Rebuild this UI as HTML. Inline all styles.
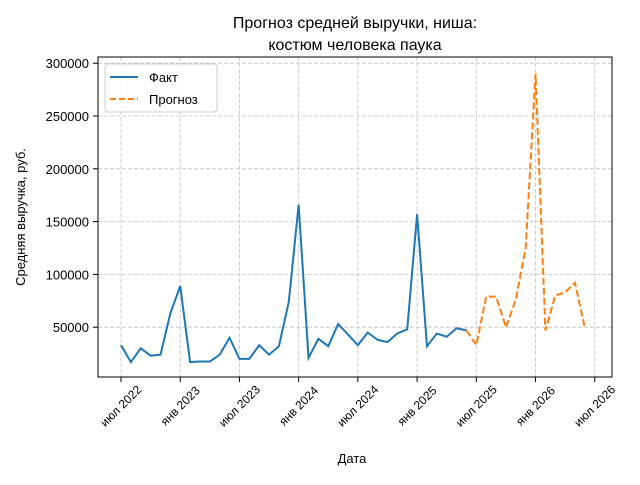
<!DOCTYPE html>
<html><head><meta charset="utf-8"><style>
body{margin:0;background:#fff}
svg text{font-family:"Liberation Sans","DejaVu Sans",sans-serif;fill:#000}
</style></head><body>
<svg id="c" width="640" height="480" xmlns="http://www.w3.org/2000/svg">
<rect width="640" height="480" fill="#fff"/>
<text x="355" y="28" font-size="16" text-anchor="middle">Прогноз средней выручки, ниша:</text>
<text x="355" y="50" font-size="16" text-anchor="middle">костюм человека паука</text>
<g id="grid"></g><g id="ticks"></g><g id="series"></g>
<rect x="98" y="57" width="514" height="320" fill="none" stroke="#000" stroke-width="1"/>
<text x="352" y="463" font-size="13" text-anchor="middle">Дата</text>
<text transform="translate(25,217) rotate(-90)" font-size="13" text-anchor="middle">Средняя выручка, руб.</text>
<g>
<rect x="105" y="64" width="112" height="48" fill="#fff" fill-opacity="0.8" stroke="#ccc" rx="3"/>
<line x1="110" y1="77" x2="138" y2="77" stroke="#1f77b4" stroke-width="2"/>
<text x="149" y="82" font-size="13">Факт</text>
<line x1="110" y1="99" x2="138" y2="99" stroke="#ff7f0e" stroke-width="2" stroke-dasharray="6,3"/>
<text x="149" y="104" font-size="13">Прогноз</text>
</g>
</svg>
<script>
const factValues=[33000,17000,30000,23000,24000,63000,89000,17000,17500,17500,24000,40000,20000,20000,33000,24000,32000,74000,166000,21000,39000,32000,53000,43000,33000,45000,38000,36000,44000,48000,157000,32000,44000,41000,49000,47000];
const forecastStart=35;
const forecastValues=[47000,33000,79000,79000,50000,76000,125000,290000,47000,80000,83000,92000,49000];
const yTicks=[50000,100000,150000,200000,250000,300000];
const xTickMonths=[0,6,12,18,24,30,36,42,48];
const xTickLabels=["июл 2022","янв 2023","июл 2023","янв 2024","июл 2024","янв 2025","июл 2025","янв 2026","июл 2026"];
const NS="http://www.w3.org/2000/svg";
const X=m=>121+m*9.87;
const Y=v=>380-v*52.8/50000;
function el(t,a,p){const e=document.createElementNS(NS,t);for(const k in a)e.setAttribute(k,a[k]);document.getElementById(p).appendChild(e);return e;}
yTicks.forEach(v=>{
 const g=el('line',{x1:98,x2:612,y1:Y(v),y2:Y(v),stroke:'#c0c0c0','stroke-dasharray':'4,2','stroke-width':0.8},'grid');
 
 
 const t=el('line',{x1:93,x2:98,y1:Y(v),y2:Y(v),stroke:'#000'},'ticks');
 
 
 const l=el('text',{x:89,y:Y(v)+5,'font-size':13,'text-anchor':'end'},'ticks');l.textContent=v;
 
 
});
xTickMonths.forEach((m,i)=>{
 const g=el('line',{x1:X(m),x2:X(m),y1:57,y2:377,stroke:'#c0c0c0','stroke-dasharray':'4,2','stroke-width':0.8},'grid');
 
 
 const t=el('line',{x1:X(m),x2:X(m),y1:377,y2:382,stroke:'#000'},'ticks');
 
 
 const cx=X(m), cy=406;
 const l=el('text',{x:cx,y:cy+4,'font-size':12,'text-anchor':'middle',transform:`rotate(-45 ${cx} ${cy})`},'ticks');l.textContent=xTickLabels[i];
 
 
});
const f=el('polyline',{points:factValues.map((v,i)=>X(i)+','+Y(v)).join(' '),fill:'none',stroke:'#1f77b4','stroke-width':2},'series');


const p=el('polyline',{points:forecastValues.map((v,i)=>X(forecastStart+i)+','+Y(v)).join(' '),fill:'none',stroke:'#ff7f0e','stroke-width':2,'stroke-dasharray':'7,3'},'series');


</script>
</body></html>
